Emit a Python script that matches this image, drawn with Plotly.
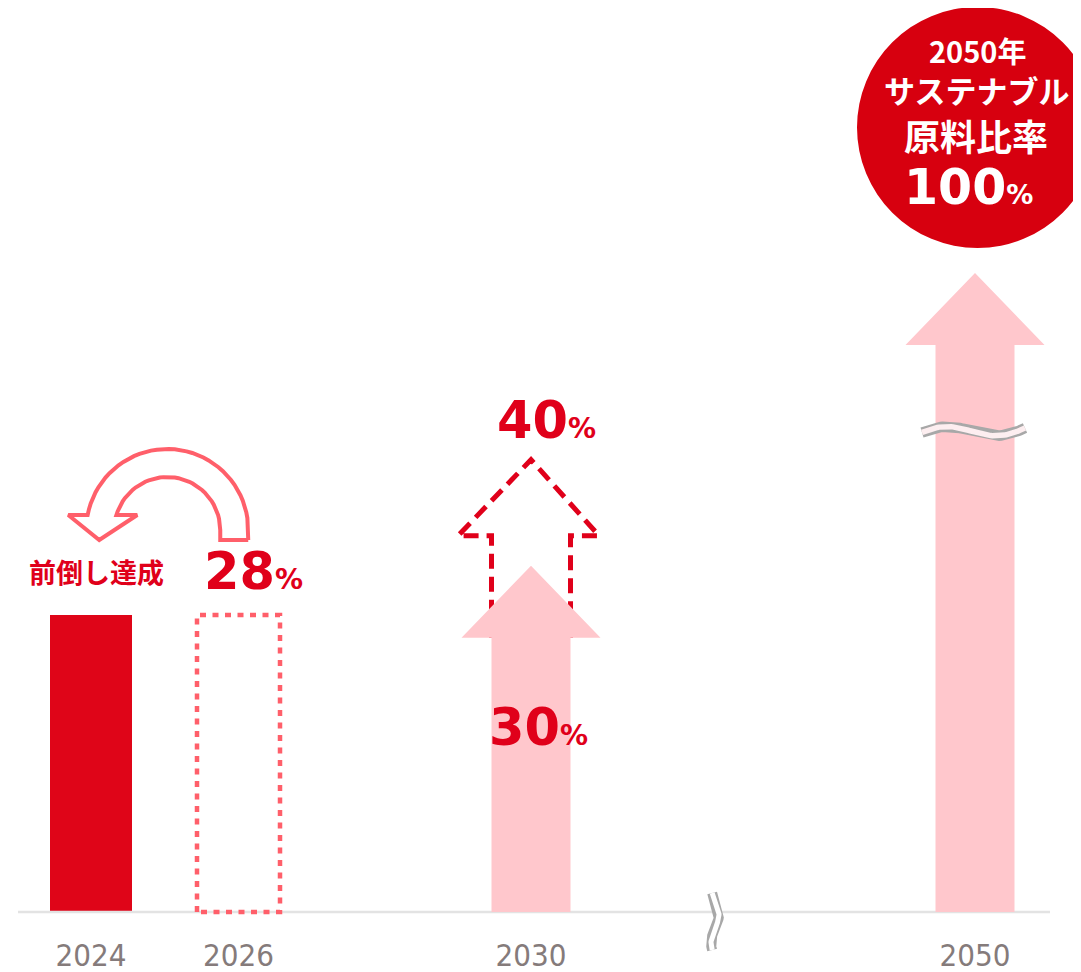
import math

import plotly.graph_objects as go

# Data: sustainable raw material ratio (%)
years = ["2024", "2026", "2030", "2050"]
achieved_2024 = 28          # 2024 actual (前倒し達成)
target_2026 = 28            # original 2026 target
target_2030 = 30            # original 2030 target
target_2030_raised = 40     # raised 2030 target
target_2050 = 100           # 2050 goal
value_labels = {"2026": "28", "2030_old": "30", "2030_new": "40", "2050": "100"}

# Layout constants, in page pixels (the figure sits 8px in from the page corner)
OFF = 8
W, H = 1081 - OFF, 972 - OFF
BASE_PX = 912                 # baseline row on the page
PX = 297 / 28                 # pixels per percentage point
Y_MAX = (BASE_PX - OFF) / PX
Y_MIN = -(H + OFF - BASE_PX) / PX
X_POS = {"2024": 91, "2026": 238.5, "2030": 531, "2050": 975}
BREAK_X = 715
DISPLAY_2050 = 57.6           # axis is broken, 100% drawn compressed

RED = "#e0001a"
BAR_RED = "#df0518"
SALMON = "#ff5f6a"
PINK = "#ffc7cc"
GRAY = "#a8a8a8"
CIRCLE = "#d7000f"
DIGITS = "DejaVu Sans"
JP = "Noto Sans CJK JP"


def u(px):
    """pixel distance -> y units"""
    return px / PX


def v_px(py):
    """page pixel row -> y value"""
    return (BASE_PX - py) / PX


def arrow(xc, top, shaft=39.5, head=69.5, tip_px=28, base_px=44):
    tip = top + u(tip_px)
    base = top - u(base_px)
    xs = [xc - shaft, xc - shaft, xc - head, xc, xc + head, xc + shaft, xc + shaft, xc - shaft]
    ys = [0, base, base, tip, base, base, 0, 0]
    return xs, ys


traces = []

# baseline
traces.append(go.Scatter(x=[18, 1050], y=[0, 0], mode="lines",
                         line=dict(color="#e3e3e3", width=2.5), hoverinfo="skip"))

# 2024 achieved bar
traces.append(go.Bar(x=[X_POS["2024"]], y=[achieved_2024], width=82,
                     marker=dict(color=BAR_RED, line=dict(width=0)), hoverinfo="skip"))

# 2026 original target (dotted box)
x0, x1 = X_POS["2026"] - 41.5, X_POS["2026"] + 41.5
traces.append(go.Scatter(x=[x0, x0, x1, x1, x0], y=[0, target_2026, target_2026, 0, 0],
                         mode="lines", line=dict(color=SALMON, width=4.5, dash="6px,6.5px"),
                         hoverinfo="skip"))

# 2030 raised target (dashed outline arrow)
xc = X_POS["2030"]
tip = target_2030_raised + u(28)
base = target_2030_raised - u(48)
low = target_2030 - u(44)
traces.append(go.Scatter(
    x=[xc - 39.5, xc - 39.5, xc - 73, xc, xc + 68, xc + 39.5, xc + 39.5],
    y=[low, base, base, tip, base, base, low],
    mode="lines", line=dict(color=RED, width=5, dash="15px,8px"), hoverinfo="skip"))

# 2030 original target arrow
ax, ay = arrow(X_POS["2030"], target_2030)
traces.append(go.Scatter(x=ax, y=ay, mode="lines", fill="toself", fillcolor=PINK,
                         line=dict(width=0, color=PINK), hoverinfo="skip"))

# 2050 arrow (broken axis)
ax, ay = arrow(X_POS["2050"], DISPLAY_2050)
traces.append(go.Scatter(x=ax, y=ay, mode="lines", fill="toself", fillcolor=PINK,
                         line=dict(width=0, color=PINK), hoverinfo="skip"))

# wavy break mark on the 2050 arrow
n = 60
wx, wy = [], []
for i in range(n + 1):
    t = i / n
    wx.append(X_POS["2050"] - 53 + 103 * t)
    py = 431 - 7 * math.cos(2 * math.pi * (t - 0.2) / 1.12) - 9 * (t - 0.5)
    wy.append(v_px(py))
traces.append(go.Scatter(x=wx, y=wy, mode="lines", line=dict(color=GRAY, width=10.5),
                         hoverinfo="skip"))
traces.append(go.Scatter(x=wx, y=wy, mode="lines", line=dict(color="#fdeef0", width=5.5),
                         hoverinfo="skip"))

# axis break mark
sx, sy = [], []
for i in range(n + 1):
    t = i / n
    py = 893 + 57 * t
    sx.append(BREAK_X + 4 * math.sin(2 * math.pi * (t - 0.125)))
    sy.append(v_px(py))
traces.append(go.Scatter(x=sx, y=sy, mode="lines", line=dict(color=GRAY, width=10),
                         hoverinfo="skip"))
traces.append(go.Scatter(x=sx, y=sy, mode="lines", line=dict(color="white", width=5),
                         hoverinfo="skip"))

# curved "ahead of schedule" arrow from 2026 back to 2024
cx = (X_POS["2024"] + X_POS["2026"]) / 2 + 2.5
cy = achieved_2024 + u(85)
r_out, r_in, lift = 81, 53, 15
a_out = 180 - math.degrees(math.asin(lift / r_out))
a_in = 180 - math.degrees(math.asin(lift / r_in))
pts = [(r_out, -10)]
for i in range(41):
    a = math.radians(a_out * i / 40)
    pts.append((r_out * math.cos(a), r_out * math.sin(a)))
pts += [(-99, lift), (-68, -10), (-30, lift)]
for i in range(41):
    a = math.radians(a_in * (1 - i / 40))
    pts.append((r_in * math.cos(a), r_in * math.sin(a)))
pts += [(r_in, -10), (r_out, -10)]
traces.append(go.Scatter(x=[cx + p[0] for p in pts], y=[cy + u(p[1]) for p in pts],
                         mode="lines", fill="toself", fillcolor="white",
                         line=dict(color=SALMON, width=4), hoverinfo="skip"))

fig = go.Figure(data=traces)


def pct(num, pct_size):
    return f"<b>{num}<span style='font-size:{pct_size}px'>%</span></b>"


annotations = [
    dict(x=96, y=achieved_2024 + u(44), text="<b>前倒し達成</b>",
         font=dict(family=JP, size=27, color=RED)),
    dict(x=253, y=target_2026 + u(44), text=pct(value_labels["2026"], 28),
         font=dict(family=DIGITS, size=51, color=RED)),
    dict(x=546, y=target_2030_raised + u(67), text=pct(value_labels["2030_new"], 28),
         font=dict(family=DIGITS, size=51, color=RED)),
    dict(x=538, y=target_2030 - u(134), text=pct(value_labels["2030_old"], 28),
         font=dict(family=DIGITS, size=51, color=RED)),
    dict(x=977, y=v_px(50), text="<b>2050年</b>", font=dict(family=JP, size=29, color="white")),
    dict(x=976, y=v_px(89), text="<b>サステナブル</b>", font=dict(family=JP, size=31, color="white")),
    dict(x=976, y=v_px(135), text="<b>原料比率</b>", font=dict(family=JP, size=36, color="white")),
    dict(x=968, y=v_px(187), text=pct(value_labels["2050"], 27),
         font=dict(family=DIGITS, size=49, color="white")),
]
for a in annotations:
    a.update(xref="x", yref="y", showarrow=False, xanchor="center", yanchor="middle")

fig.update_layout(
    width=W, height=H,
    margin=dict(l=0, r=0, t=0, b=0),
    paper_bgcolor="white", plot_bgcolor="white",
    showlegend=False,
    shapes=[dict(type="circle", xref="x", yref="y", x0=857, x1=1098,
                 y0=v_px(248), y1=v_px(7), fillcolor=CIRCLE, line=dict(width=0),
                 layer="below")],
    annotations=annotations,
    xaxis=dict(range=[OFF, OFF + W], showgrid=False, zeroline=False, showline=False,
               anchor="free", position=(H + OFF - BASE_PX) / H,
               tickvals=[X_POS[y] for y in years], ticktext=years, ticks="",
               ticklabelstandoff=22,
               tickfont=dict(family="DejaVu Sans Condensed", size=31, color="#857b7b")),
    yaxis=dict(range=[Y_MIN, Y_MAX], visible=False, showgrid=False, zeroline=False),
)

fig.write_html("out.html")
